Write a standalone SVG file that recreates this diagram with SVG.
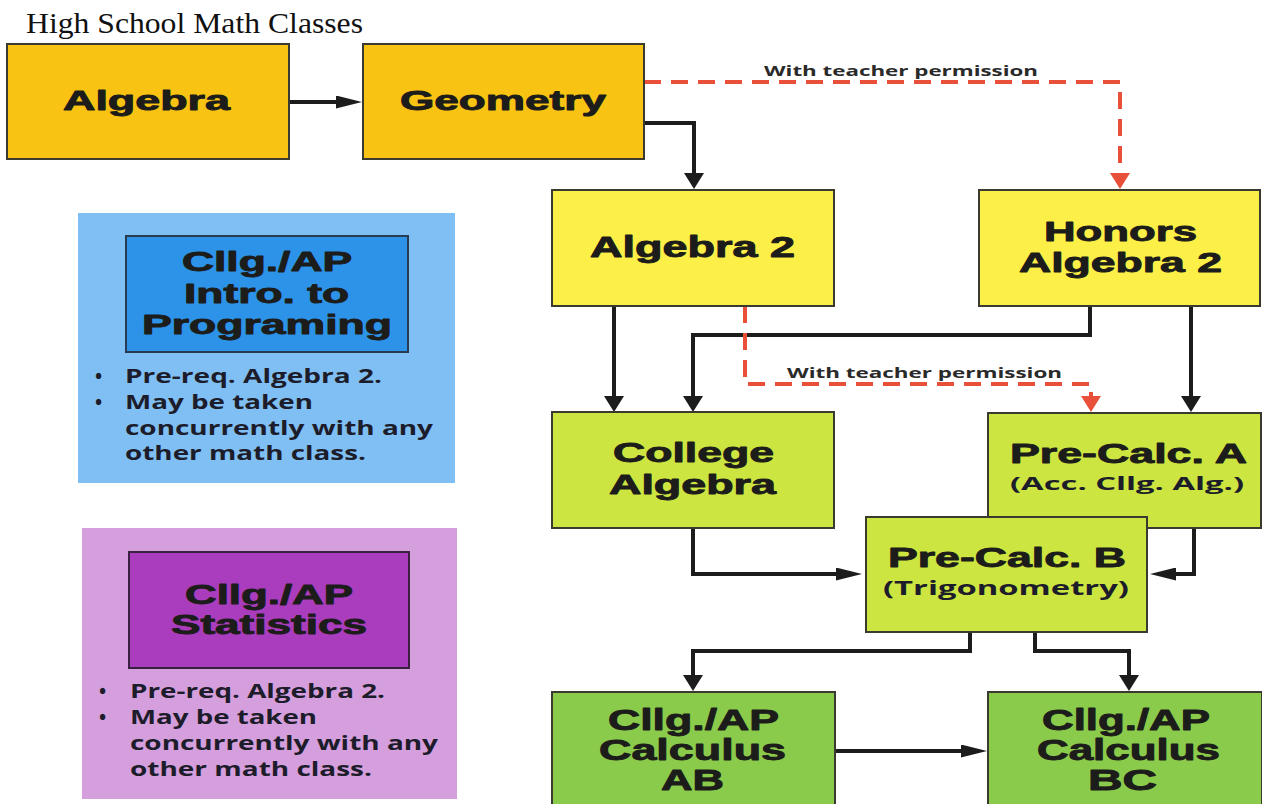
<svg xmlns="http://www.w3.org/2000/svg" width="1262" height="804" viewBox="0 0 1262 804">
<style>
  .box{stroke:#3a3a30;stroke-width:2}
  .gold{fill:#F8C313}
  .yel{fill:#FCEF47}
  .lime{fill:#CDE540}
  .grn{fill:#8BCB4C}
  .n{font-family:"Liberation Sans",Arial,sans-serif;font-weight:700;fill:#1c1c1a;stroke:#1c1c1a;stroke-width:0.9;stroke-linejoin:round}
  .b{font-family:"Open Sans","Noto Sans",sans-serif;font-weight:700;fill:#1c1c2a;font-size:19px}
  .lab{font-family:"Open Sans","Noto Sans",sans-serif;font-weight:700;fill:#2a2a2a;font-size:15px}
  .ln{fill:none;stroke:#1c1c1c;stroke-width:4}
  .red{fill:none;stroke:#E8503A;stroke-width:4;stroke-dasharray:17 10}
</style>
<defs>
  <marker id="aV" markerUnits="userSpaceOnUse" viewBox="0 0 16 20" markerWidth="16" markerHeight="20" refX="8" refY="10" orient="auto">
    <path d="M0,0 L16,10 L0,20 z" fill="#1c1c1c"/>
  </marker>
  <marker id="aH" markerUnits="userSpaceOnUse" viewBox="0 0 26 13" markerWidth="26" markerHeight="13" refX="13" refY="6.5" orient="auto">
    <path d="M0,0 L26,6.5 L0,13 z" fill="#1c1c1c"/>
  </marker>
  <marker id="aR" markerUnits="userSpaceOnUse" viewBox="0 0 16 20" markerWidth="16" markerHeight="20" refX="8" refY="10" orient="auto">
    <path d="M0,0 L16,10 L0,20 z" fill="#E8503A"/>
  </marker>
</defs>
<rect width="1262" height="804" fill="#ffffff"/>
<text x="26" y="33" font-family="'Liberation Serif','Times New Roman',serif" font-size="29" fill="#111" textLength="337" lengthAdjust="spacingAndGlyphs">High School Math Classes</text>

<g id="connectors">
  <path class="ln" d="M289,102 H349" marker-end="url(#aH)"/>
  <path class="ln" d="M644,123 H694 V181" marker-end="url(#aV)"/>
  <path class="red" d="M644,82 H1120 V181" marker-end="url(#aR)"/>
  <path class="ln" d="M614,306 V404" marker-end="url(#aV)"/>
  <path class="ln" d="M1090,306 V335 H693 V404" marker-end="url(#aV)"/>
  <path class="red" d="M745,306 V384 H1091 V404" marker-end="url(#aR)"/>
  <path class="ln" d="M1191,306 V404" marker-end="url(#aV)"/>
  <path class="ln" d="M693,528 V574 H849" marker-end="url(#aH)"/>
  <path class="ln" d="M1194,528 V574 H1163" marker-end="url(#aH)"/>
  <path class="ln" d="M970,632 V651 H693 V683" marker-end="url(#aV)"/>
  <path class="ln" d="M1035,632 V651 H1129 V683" marker-end="url(#aV)"/>
  <path class="ln" d="M835,751 H974" marker-end="url(#aH)"/>
  <text class="lab" x="764" y="76" textLength="274" lengthAdjust="spacingAndGlyphs">With teacher permission</text>
  <text class="lab" x="787" y="378" textLength="275" lengthAdjust="spacingAndGlyphs">With teacher permission</text>
</g>

<g id="algebra">
  <rect class="box gold" x="7" y="44" width="282" height="115"/>
  <text class="n" x="63" y="110" font-size="27" textLength="167" lengthAdjust="spacingAndGlyphs">Algebra</text>
</g>
<g id="geometry">
  <rect class="box gold" x="363" y="44" width="281" height="115"/>
  <text class="n" x="400" y="110" font-size="27" textLength="206" lengthAdjust="spacingAndGlyphs">Geometry</text>
</g>
<g id="algebra2">
  <rect class="box yel" x="552" y="190" width="282" height="116"/>
  <text class="n" x="590" y="257" font-size="29" textLength="205" lengthAdjust="spacingAndGlyphs">Algebra 2</text>
</g>
<g id="honors">
  <rect class="box yel" x="979" y="190" width="281" height="116"/>
  <text class="n" x="1044" y="241" font-size="28" textLength="153" lengthAdjust="spacingAndGlyphs">Honors</text>
  <text class="n" x="1019" y="272" font-size="28" textLength="203" lengthAdjust="spacingAndGlyphs">Algebra 2</text>
</g>
<g id="college-algebra">
  <rect class="box lime" x="552" y="412" width="282" height="116"/>
  <text class="n" x="613" y="462" font-size="28" textLength="161" lengthAdjust="spacingAndGlyphs">College</text>
  <text class="n" x="609" y="494" font-size="28" textLength="167" lengthAdjust="spacingAndGlyphs">Algebra</text>
</g>
<g id="precalc-a">
  <rect class="box lime" x="988" y="413" width="273" height="115"/>
  <text class="n" x="1010" y="463" font-size="27" textLength="237" lengthAdjust="spacingAndGlyphs">Pre-Calc. A</text>
  <text class="b" x="1010" y="490" style="font-size:18px" textLength="234" lengthAdjust="spacingAndGlyphs">(Acc. Cllg. Alg.)</text>
</g>
<g id="precalc-b">
  <rect class="box lime" x="866" y="517" width="281" height="115"/>
  <text class="n" x="888" y="567" font-size="28" textLength="238" lengthAdjust="spacingAndGlyphs">Pre-Calc. B</text>
  <text class="b" x="883" y="595" style="font-size:20px" textLength="246" lengthAdjust="spacingAndGlyphs">(Trigonometry)</text>
</g>
<g id="calc-ab">
  <rect class="box grn" x="552" y="692" width="283" height="116"/>
  <text class="n" x="608" y="730" font-size="29" textLength="171" lengthAdjust="spacingAndGlyphs">Cllg./AP</text>
  <text class="n" x="599" y="760" font-size="29" textLength="187" lengthAdjust="spacingAndGlyphs">Calculus</text>
  <text class="n" x="661" y="790" font-size="29" textLength="63" lengthAdjust="spacingAndGlyphs">AB</text>
</g>
<g id="calc-bc">
  <rect class="box grn" x="988" y="692" width="274" height="116"/>
  <text class="n" x="1042" y="730" font-size="29" textLength="168" lengthAdjust="spacingAndGlyphs">Cllg./AP</text>
  <text class="n" x="1037" y="760" font-size="29" textLength="183" lengthAdjust="spacingAndGlyphs">Calculus</text>
  <text class="n" x="1088" y="790" font-size="29" textLength="69" lengthAdjust="spacingAndGlyphs">BC</text>
</g>

<g id="programming">
  <rect x="78" y="213" width="377" height="270" fill="#80BFF4"/>
  <rect x="126" y="236" width="282" height="116" fill="#2D93E8" stroke="#2a3a50" stroke-width="2"/>
  <text class="n" x="182" y="271" font-size="27" textLength="170" lengthAdjust="spacingAndGlyphs">Cllg./AP</text>
  <text class="n" x="184" y="303" font-size="27" textLength="165" lengthAdjust="spacingAndGlyphs">Intro. to</text>
  <text class="n" x="142" y="334" font-size="27" textLength="250" lengthAdjust="spacingAndGlyphs">Programing</text>
  <text class="b" x="95" y="383">•</text>
  <text class="b" x="95" y="409">•</text>
  <text class="b" x="125" y="383" textLength="257" lengthAdjust="spacingAndGlyphs">Pre-req. Algebra 2.</text>
  <text class="b" x="125" y="409" textLength="188" lengthAdjust="spacingAndGlyphs">May be taken</text>
  <text class="b" x="125" y="435" textLength="308" lengthAdjust="spacingAndGlyphs">concurrently with any</text>
  <text class="b" x="125" y="460" textLength="241" lengthAdjust="spacingAndGlyphs">other math class.</text>
</g>
<g id="statistics">
  <rect x="82" y="528" width="375" height="271" fill="#D59EDC"/>
  <rect x="129" y="552" width="280" height="116" fill="#A93DBE" stroke="#3a2040" stroke-width="2"/>
  <text class="n" x="185" y="604" font-size="27" textLength="168" lengthAdjust="spacingAndGlyphs">Cllg./AP</text>
  <text class="n" x="171" y="634" font-size="27" textLength="196" lengthAdjust="spacingAndGlyphs">Statistics</text>
  <text class="b" x="99" y="698">•</text>
  <text class="b" x="99" y="724">•</text>
  <text class="b" x="130" y="698" textLength="255" lengthAdjust="spacingAndGlyphs">Pre-req. Algebra 2.</text>
  <text class="b" x="130" y="724" textLength="187" lengthAdjust="spacingAndGlyphs">May be taken</text>
  <text class="b" x="130" y="750" textLength="308" lengthAdjust="spacingAndGlyphs">concurrently with any</text>
  <text class="b" x="130" y="776" textLength="242" lengthAdjust="spacingAndGlyphs">other math class.</text>
</g>
</svg>
